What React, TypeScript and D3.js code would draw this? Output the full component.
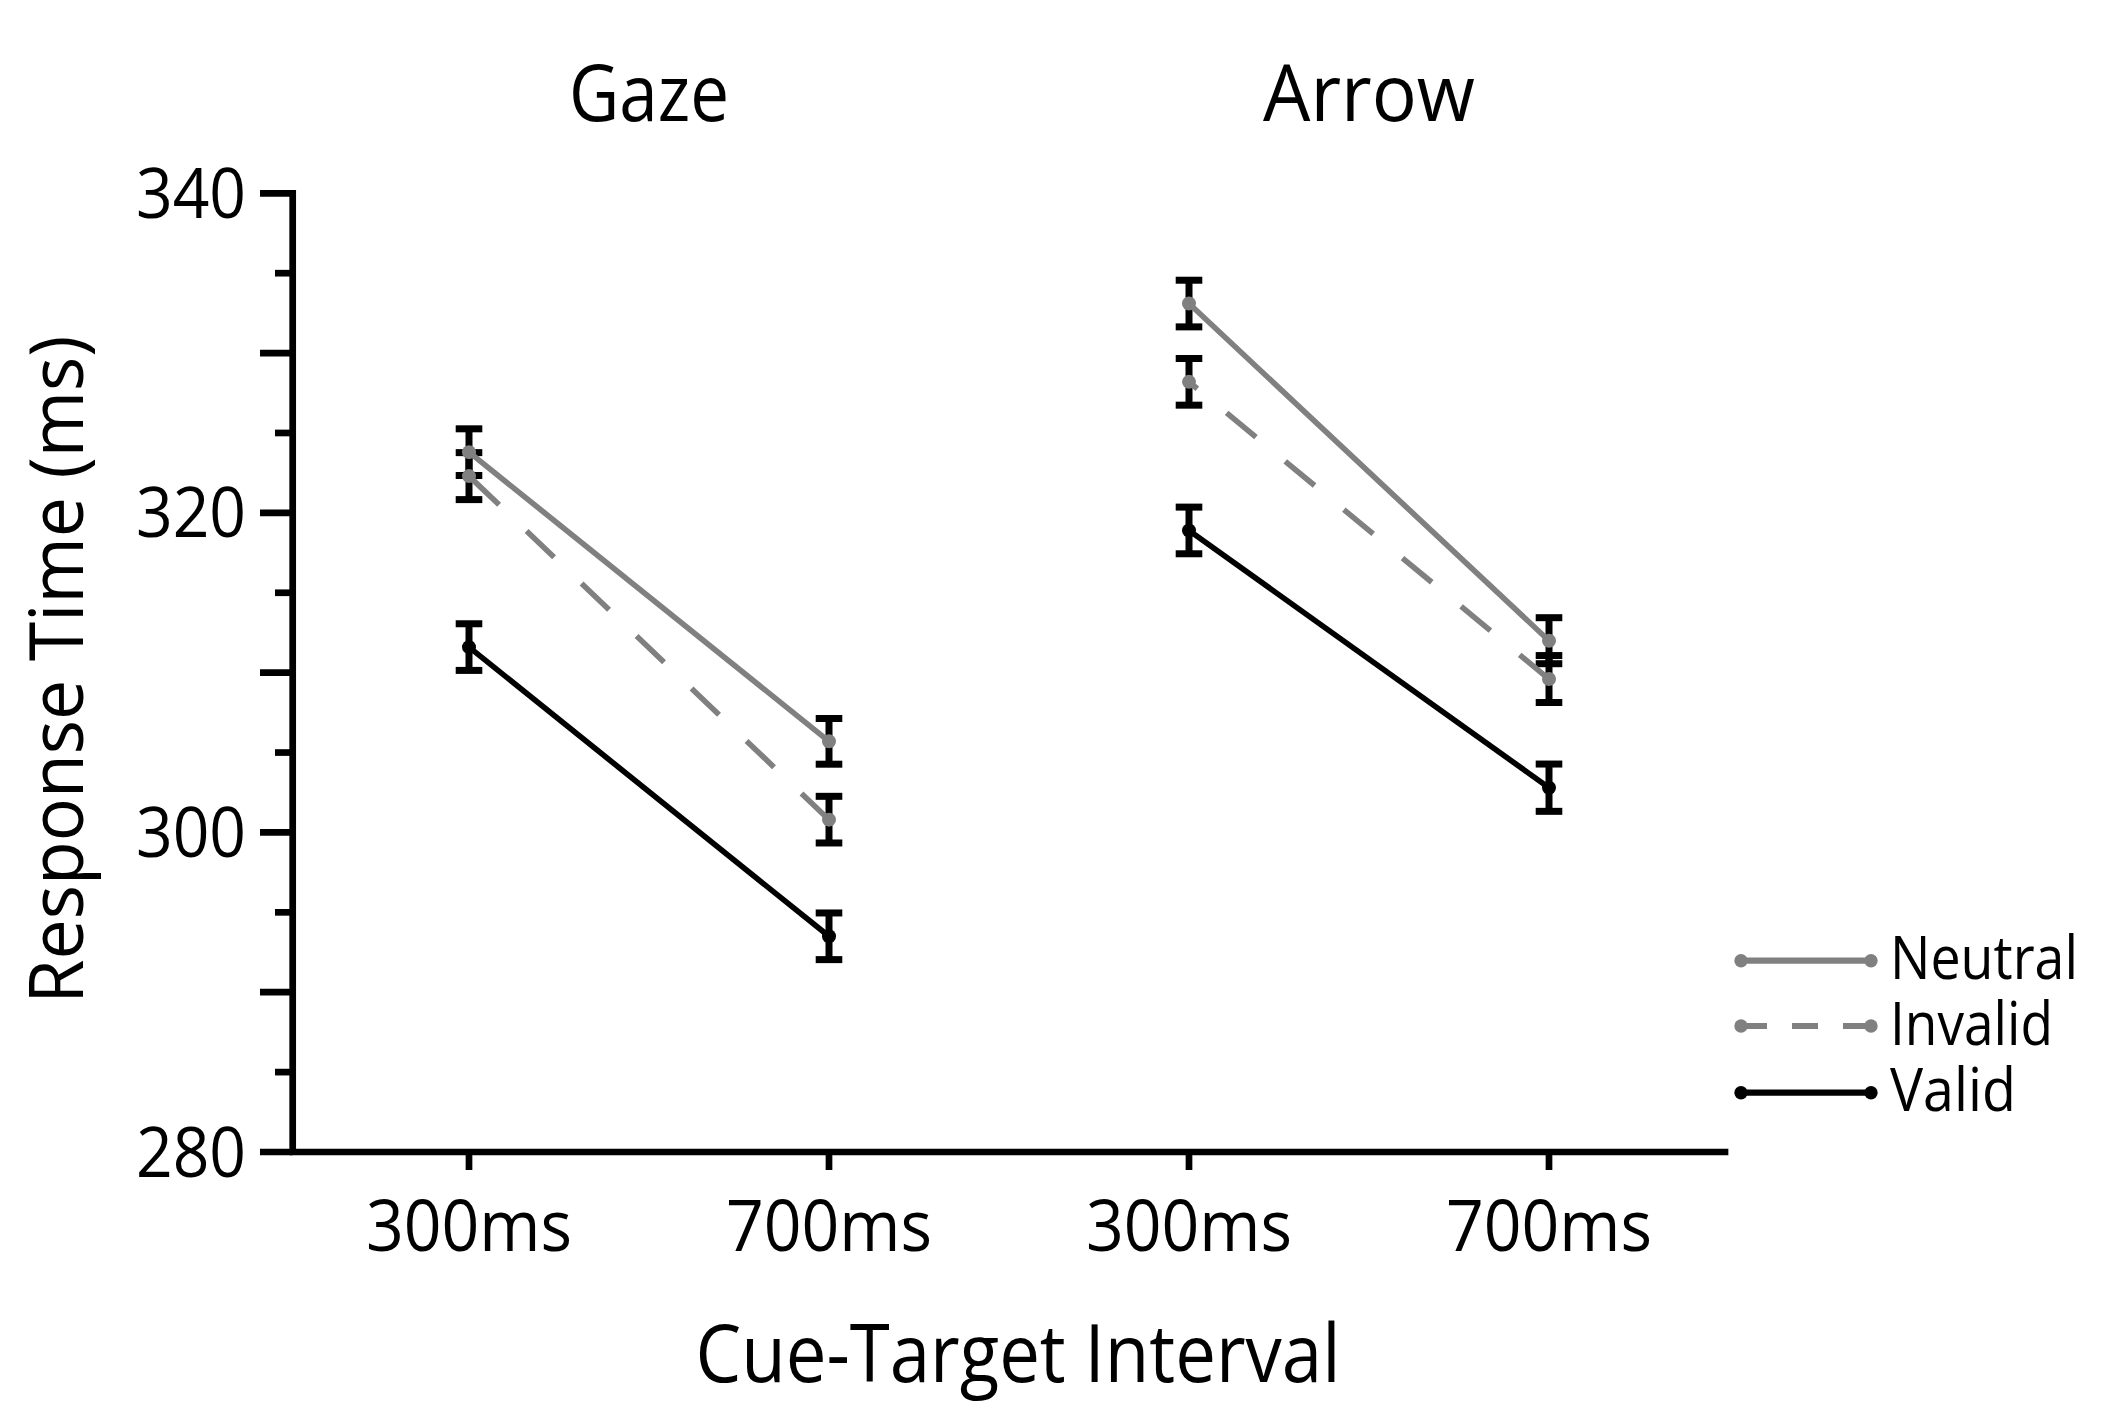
import React from "react";
import * as d3 from "d3";

const cues = ["Gaze", "Arrow"];
const intervals = ["300ms", "700ms"];
const conditions = ["Neutral", "Invalid", "Valid"];
const neutralRT = [323.8, 305.7, 333.1, 312.0];
const invalidRT = [322.3, 300.8, 328.2, 309.6];
const validRT = [311.6, 293.5, 318.9, 302.8];
const neutralSE = [1.46, 1.43, 1.46, 1.44];
const invalidSE = [1.47, 1.46, 1.46, 1.47];
const validSE = [1.46, 1.46, 1.46, 1.48];
const yMajorTicks = [280, 290, 300, 310, 320, 330, 340];
const yMinorTicks = [285, 295, 305, 315, 325, 335];
const yTickLabels = [280, 300, 320, 340];
const yDomain = [280, 340];

const FONT = "'Open Sans', sans-serif";
const W = 2103;
const H = 1409;
const AX_X = 292.7;
const AX_Y = 1152;
const AX_TOP = 193.3;
const AX_RIGHT = 1725;
const GRAY = "#808080";

const seriesList = [
  { name: conditions[0], values: neutralRT, se: neutralSE, color: GRAY, dashed: false },
  { name: conditions[1], values: invalidRT, se: invalidSE, color: GRAY, dashed: true },
  { name: conditions[2], values: validRT, se: validSE, color: "#000", dashed: false },
];

const keys = cues.flatMap((c) => intervals.map((i) => `${c}|${i}`));

export default function App() {
  const x = d3.scalePoint<string>().domain(keys).range([289, 1729]).padding(0.5);
  const y = d3.scaleLinear().domain(yDomain).range([AX_Y, AX_TOP]);
  const line = d3
    .line<[number, number]>()
    .x((d) => d[0])
    .y((d) => d[1]);

  const legendY = [960.7, 1026, 1092.7];
  const legendLens = [188, 163, 126];

  return (
    <svg
      width={W}
      height={H}
      style={{ position: "absolute", left: 0, top: 0, background: "#fff" }}
      fontFamily={FONT}
      fontWeight={500}
    >
      <rect x={0} y={0} width={W} height={H} fill="#fff" />
      {/* titles */}
      {cues.map((c, ci) => {
        const cx = ((x(`${c}|${intervals[0]}`) as number) + (x(`${c}|${intervals[1]}`) as number)) / 2;
        return (
          <text
            key={c}
            x={cx}
            y={121}
            fontSize={78}
            textAnchor="middle"
            textLength={ci === 0 ? 160 : 212}
            lengthAdjust="spacingAndGlyphs"
          >
            {c}
          </text>
        );
      })}

      {/* y ticks */}
      {yMajorTicks.map((t) => (
        <line key={"M" + t} x1={260} x2={AX_X} y1={y(t)} y2={y(t)} stroke="#000" strokeWidth={6.7} />
      ))}
      {yMinorTicks.map((t) => (
        <line key={"m" + t} x1={275} x2={AX_X} y1={y(t)} y2={y(t)} stroke="#000" strokeWidth={6.7} />
      ))}
      {yTickLabels.map((t) => (
        <text
          key={"l" + t}
          x={246}
          y={y(t) + 24.5}
          fontSize={69}
          textAnchor="end"
          textLength={110}
          lengthAdjust="spacingAndGlyphs"
        >
          {t}
        </text>
      ))}

      {/* x ticks */}
      {keys.map((k) => (
        <line key={"xt" + k} x1={x(k)} x2={x(k)} y1={AX_Y} y2={1170} stroke="#000" strokeWidth={6.7} />
      ))}
      {keys.map((k) => (
        <text
          key={"xl" + k}
          x={x(k)}
          y={1251}
          fontSize={71}
          textAnchor="middle"
          textLength={206}
          lengthAdjust="spacingAndGlyphs"
        >
          {k.split("|")[1]}
        </text>
      ))}

      {/* axes */}
      <path
        d={`M${AX_X},${AX_TOP}V${AX_Y}H${AX_RIGHT}`}
        fill="none"
        stroke="#000"
        strokeWidth={6.7}
        strokeLinecap="square"
      />

      {/* axis titles */}
      <text
        x={1018}
        y={1382}
        fontSize={80}
        textAnchor="middle"
        textLength={645}
        lengthAdjust="spacingAndGlyphs"
      >
        Cue-Target Interval
      </text>
      <text
        transform={`translate(83,${(AX_TOP + AX_Y) / 2 - 3}) rotate(-90)`}
        fontSize={75}
        textAnchor="middle"
        textLength={668}
        lengthAdjust="spacingAndGlyphs"
      >
        Response Time (ms)
      </text>

      {/* error bars */}
      {seriesList.map((s) =>
        keys.map((k, i) => {
          const xc = x(k) as number;
          const y1 = y(s.values[i] + s.se[i]);
          const y2 = y(s.values[i] - s.se[i]);
          return (
            <g key={"eb" + s.name + k} stroke="#000" strokeWidth={7}>
              <line x1={xc} x2={xc} y1={y1} y2={y2} />
              <line x1={xc - 13.3} x2={xc + 13.3} y1={y1} y2={y1} />
              <line x1={xc - 13.3} x2={xc + 13.3} y1={y2} y2={y2} />
            </g>
          );
        })
      )}

      {/* lines */}
      {seriesList.map((s) =>
        cues.map((c, ci) => {
          let pts: [number, number][] = intervals.map((iv, ii) => [
            x(`${c}|${iv}`) as number,
            y(s.values[ci * 2 + ii]),
          ]);
          if (s.dashed) pts = pts.slice().reverse();
          return (
            <path
              key={"ln" + s.name + c}
              d={line(pts) as string}
              fill="none"
              stroke={s.color}
              strokeWidth={5.6}
              strokeDasharray={s.dashed ? "38 38" : undefined}
            />
          );
        })
      )}

      {/* points */}
      {seriesList.map((s) =>
        keys.map((k, i) => (
          <circle key={"pt" + s.name + k} cx={x(k)} cy={y(s.values[i])} r={7} fill={s.color} />
        ))
      )}

      {/* legend */}
      {seriesList.map((s, i) => (
        <g key={"lg" + s.name}>
          <line
            x1={1741}
            x2={1871}
            y1={legendY[i]}
            y2={legendY[i]}
            stroke={s.color}
            strokeWidth={6.2}
            strokeDasharray={s.dashed ? "26 25" : undefined}
          />
          <circle cx={1741} cy={legendY[i]} r={6.7} fill={s.color} />
          <circle cx={1871} cy={legendY[i]} r={6.7} fill={s.color} />
          <text
            x={1890}
            y={legendY[i] + 18.6}
            fontSize={61}
            textLength={legendLens[i]}
            lengthAdjust="spacingAndGlyphs"
          >
            {s.name}
          </text>
        </g>
      ))}
    </svg>
  );
}
